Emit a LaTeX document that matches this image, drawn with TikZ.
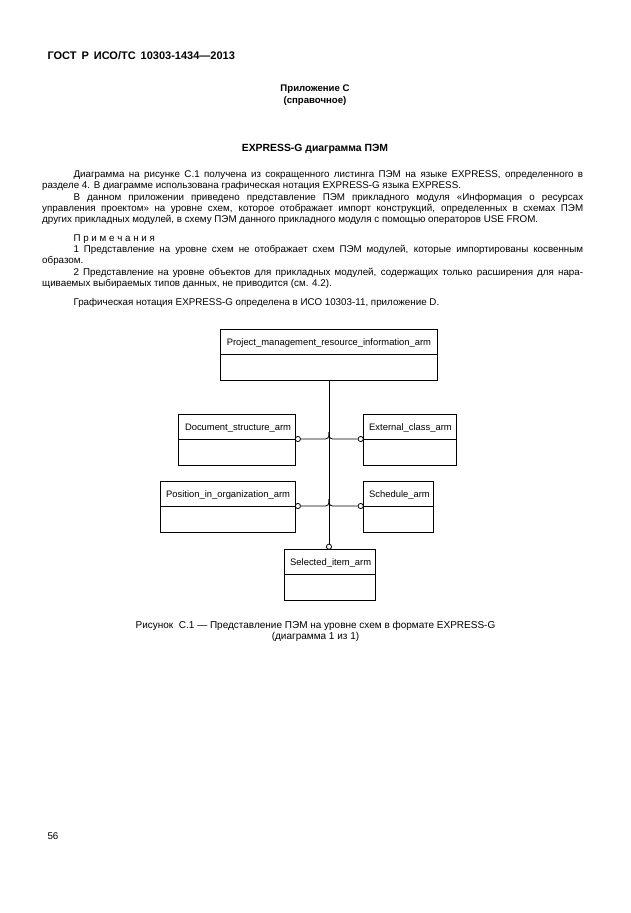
\documentclass[tikz,border=0pt]{standalone}
\usepackage{fontspec}
\setmainfont{Liberation Sans}
\usetikzlibrary{fit}
\begin{document}
\begin{tikzpicture}[x=1pt,y=-1pt,
  ent/.style={draw, line width=0.8pt, inner sep=0pt},
  lbl/.style={anchor=base west, inner sep=0pt, font=\fontsize{9.4}{11}\selectfont},
  conn/.style={line width=0.8pt},
  ring/.style={circle, draw, fill=white, line width=0.8pt, minimum size=5.2pt, inner sep=0pt},
  body/.style={anchor=base west, inner sep=0pt, font=\fontsize{9.8}{11}\selectfont},
  head/.style={anchor=base, inner sep=0pt, font=\fontsize{9.6}{11}\selectfont\bfseries},
  captext/.style={anchor=base, inner sep=0pt, font=\fontsize{10}{11}\selectfont}]
\fill[white] (0,0) rectangle (630,913);
\useasboundingbox (0,0) rectangle (630,913);

% header
\node[anchor=base west, inner sep=0pt, font=\fontsize{11}{13}\selectfont\bfseries] (gost) at (47.3,59.2) {ГОСТ\hspace{5pt}Р\hspace{5pt}ИСО/ТС\hspace{5pt}10303-1434—2013};
\node[head] (app) at (315,91.3) {Приложение С};
\node[head] (ref) at (315,103) {(справочное)};
\node[head, font=\fontsize{10.4}{12}\selectfont\bfseries] (title) at (315,151) {EXPRESS-G диаграмма ПЭМ};

% body text
\node[body] (l1) at (73.3,177.4) {\makebox[509.7pt][s]{Диаграмма на рисунке С.1 получена из сокращенного листинга ПЭМ на языке EXPRESS, определенного в}};
\node[body] (l2) at (42,188.7) {разделе 4. В диаграмме использована графическая нотация EXPRESS-G языка EXPRESS.};
\node[body] (l3) at (73.3,200) {\makebox[509.7pt][s]{В данном приложении приведено представление ПЭМ прикладного модуля «Информация о ресурсах}};
\node[body] (l4) at (42,211.3) {\makebox[541pt][s]{управления проектом» на уровне схем, которое отображает импорт конструкций, определенных в схемах ПЭМ}};
\node[body] (l5) at (42,222.6) {других прикладных модулей, в схему ПЭМ данного прикладного модуля с помощью операторов USE FROM.};
\node[body] (l6) at (73.3,241.2) {П р и м е ч а н и я};
\node[body] (l7) at (73.3,252.5) {\makebox[509.7pt][s]{1 Представление на уровне схем не отображает схем ПЭМ модулей, которые импортированы косвенным}};
\node[body] (l8) at (42,263.8) {образом.};
\node[body] (l9) at (73.3,275.1) {\makebox[509.7pt][s]{2 Представление на уровне объектов для прикладных модулей, содержащих только расширения для нара-}};
\node[body] (l10) at (42,286.4) {щиваемых выбираемых типов данных, не приводится (см. 4.2).};
\node[body] (l11) at (73.3,305) {Графическая нотация EXPRESS-G определена в ИСО 10303-11, приложение D.};

% entities
\node[ent, fit={(220.3,329.3)(437.7,380.3)}] (pm) {};
\draw[conn] (220.3,354.3) -- (437.7,354.3);
\node[lbl] (pmt) at (226.6,345.2) {Project\_management\_resource\_information\_arm};

\node[ent, fit={(178.3,414.3)(295.3,465)}] (ds) {};
\draw[conn] (178.3,439) -- (295.3,439);
\node[lbl] (dst) at (184.8,430.1) {Document\_structure\_arm};

\node[ent, fit={(363.3,414.3)(456.7,465)}] (ec) {};
\draw[conn] (363.3,439) -- (456.7,439);
\node[lbl] (ect) at (369,430.1) {External\_class\_arm};

\node[ent, fit={(160,481.7)(295.3,532.5)}] (po) {};
\draw[conn] (160,506) -- (295.3,506);
\node[lbl] (pot) at (166,497.3) {Position\_in\_organization\_arm};

\node[ent, fit={(363.3,481.7)(433.7,532.5)}] (sc) {};
\draw[conn] (363.3,506) -- (433.7,506);
\node[lbl] (sct) at (369,497.3) {Schedule\_arm};

\node[ent, fit={(284.7,549.3)(375.3,600.3)}] (se) {};
\draw[conn] (284.7,574.7) -- (375.3,574.7);
\node[lbl] (set) at (290,565.4) {Selected\_item\_arm};

% connectors
\coordinate (j1) at (329,432);
\coordinate (j2) at (329,499);
\node[ring] (c1) at (297.9,439) {};
\node[ring] (c2) at (360.7,439) {};
\node[ring] (c3) at (297.9,506) {};
\node[ring] (c4) at (360.7,506) {};
\node[ring] (c5) at (329,546.7) {};
\draw[conn] (pm.south) -- (c5.north);
\draw[conn, rounded corners=3.5pt] (j1) -- (j1 |- c1) -- (c1.east);
\draw[conn, rounded corners=3.5pt] (j1) -- (j1 |- c2) -- (c2.west);
\draw[conn, rounded corners=3.5pt] (j2) -- (j2 |- c3) -- (c3.east);
\draw[conn, rounded corners=3.5pt] (j2) -- (j2 |- c4) -- (c4.west);

% caption
\node[captext] (cap1) at (315.5,628.4) {Рисунок\ \ С.1 — Представление ПЭМ на уровне схем в формате EXPRESS-G};
\node[captext] (cap2) at (315.5,639.6) {(диаграмма 1 из 1)};

\node[anchor=base west, inner sep=0pt, font=\fontsize{9.8}{11}\selectfont] (pg) at (47.3,839.6) {56};
\end{tikzpicture}
\end{document}
